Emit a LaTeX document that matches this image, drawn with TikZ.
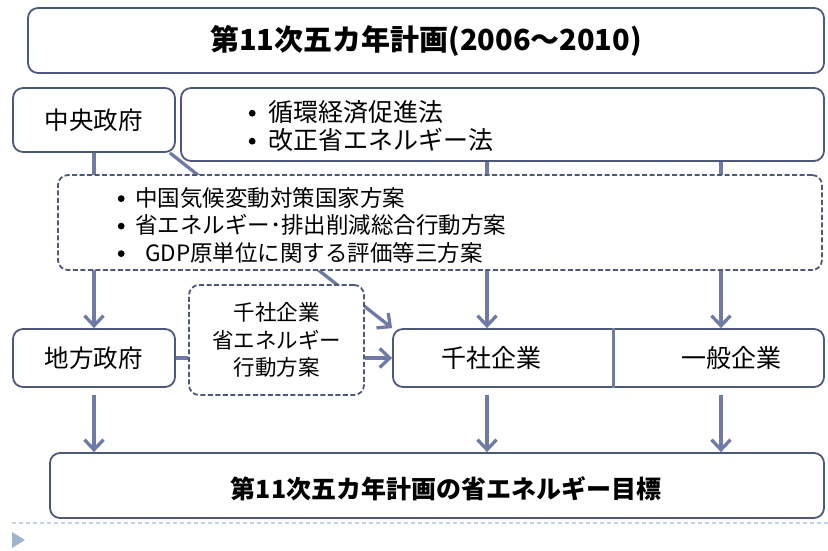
\documentclass[tikz,border=0pt]{standalone}
\usepackage{fontspec}
\setmainfont{Noto Sans CJK JP}
\usetikzlibrary{arrows.meta,backgrounds}
\definecolor{boxc}{RGB}{78,88,122}
\definecolor{arrc}{RGB}{111,123,165}
\definecolor{footc}{RGB}{196,211,227}
\definecolor{tric}{RGB}{157,179,206}
\newcommand\blt{\tikz[baseline=-0.33em]\fill (0,0) circle (3.4pt);}
\tikzset{
  box/.style={draw=boxc, line width=1.8pt, rounded corners=10pt, fill=white, inner sep=0pt},
  dbox/.style={box, dash pattern=on 5pt off 2.5pt},
  lnk/.style={draw=arrc, line width=3.3pt},
  arr/.style={lnk, -{Straight Barb[length=10pt,width=19pt]}},
  txt/.style={inner sep=0pt, align=left}
}
\begin{document}
\begin{tikzpicture}[x=1pt,y=-1pt]
\useasboundingbox (0,0) rectangle (828,550);
% nodes
\node[box, minimum width=796pt, minimum height=65pt, font=\fontsize{29}{32}\selectfont\bfseries] (title) at (426,40.5) {第11次五カ年計画(2006～2010)};
\node[box, minimum width=162pt, minimum height=64pt, font=\fontsize{24.5}{26}\selectfont] (cg) at (94,120) {中央政府};
\node[box, minimum width=643pt, minimum height=73pt] (law) at (502.5,124.5) {};
\node[txt, anchor=west, font=\fontsize{25}{28}\selectfont] (lawtxt) at (245,126)
  {\makebox[14pt]{\blt}\hspace{9pt}循環経済促進法\\\makebox[14pt]{\blt}\hspace{9pt}改正省エネルギー法};
\node[dbox, minimum width=764pt, minimum height=95pt] (plan) at (440,222.5) {};
\node[txt, anchor=west, font=\fontsize{22.5}{27.5}\selectfont] (plantxt) at (114,225)
  {\makebox[14pt]{\blt}\hspace{7pt}中国気候変動対策国家方案\\
   \makebox[14pt]{\blt}\hspace{7pt}省エネルギー･排出削減総合行動方案\\
   \makebox[14pt]{\blt}\hspace{17pt}GDP原単位に関する評価等三方案};
\node[box, minimum width=162pt, minimum height=58pt, font=\fontsize{24.5}{26}\selectfont] (local) at (94,358) {地方政府};
\node[dbox, minimum width=175pt, minimum height=110pt, align=center, font=\fontsize{21.5}{27.5}\selectfont] (act) at (276.5,340) {千社企業\\省エネルギー\\行動方案};
\node[box, minimum width=431pt, minimum height=58pt] (firms) at (608.5,358) {};
\node[txt, font=\fontsize{25}{28}\selectfont] (sen) at (491,358) {千社企業};
\node[txt, font=\fontsize{25}{28}\selectfont] (ippan) at (731,358) {一般企業};
\node[box, minimum width=774pt, minimum height=65pt] (goal) at (437,485.5) {};
\node[txt, font=\fontsize{25}{28}\selectfont\bfseries] (goaltxt) at (446,489) {第11次五カ年計画の省エネルギー目標};
\coordinate (a1) at (487,0);
\coordinate (a2) at (721,0);
\coordinate (dv) at (613,0);
% divider
\draw[arrc, line width=3pt] (firms.north -| dv) -- (firms.south -| dv);
% connectors behind boxes
\begin{scope}[on background layer]
\draw[arr] (cg.south) -- (cg.south |- local.north);
\draw[arr] (law.south -| a1) -- (firms.north -| a1);
\draw[arr] (law.south -| a2) -- (firms.north -| a2);
\draw[arr] ([xshift=-6pt]cg.south east) -- (firms.north west);
\end{scope}
\draw[lnk] (local.east) -- (local.east -| act.west);
\draw[arr] (act.east |- firms.west) -- (firms.west);
\draw[arr, shorten <=7pt] (local.south) -- (local.south |- goal.north);
\draw[arr, shorten <=7pt] (firms.south -| a1) -- (goal.north -| a1);
\draw[arr, shorten <=7pt] (firms.south -| a2) -- (goal.north -| a2);
% footer
\draw[footc, line width=1.5pt, dash pattern=on 4pt off 3pt] (12,523) -- (828,523);
\fill[tric] (12,532) -- (12,548) -- (25,540) -- cycle;
\end{tikzpicture}
\end{document}
